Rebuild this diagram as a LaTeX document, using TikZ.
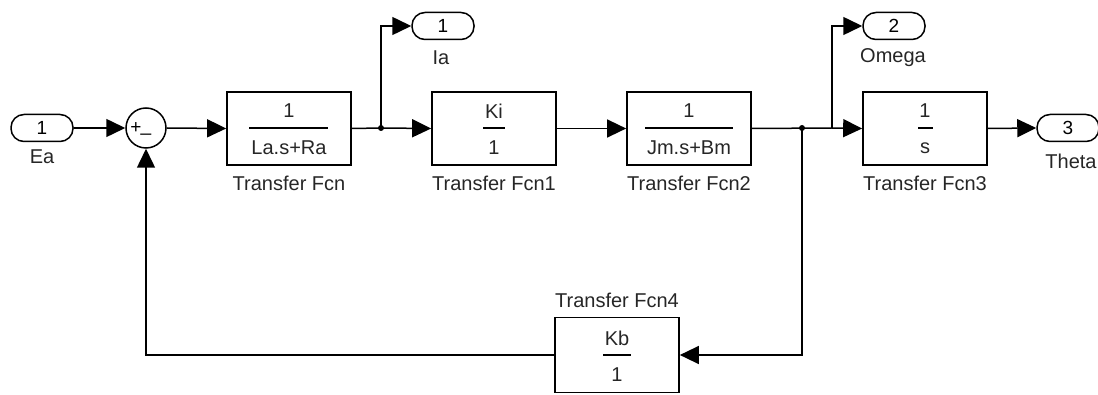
\documentclass[tikz,border=0pt]{standalone}
\usepackage{fontspec}
\setmainfont{Liberation Sans}
\usetikzlibrary{arrows.meta,calc}
\begin{document}
\begin{tikzpicture}[x=1pt,y=-1pt,
  wire/.style={line width=1.5pt,draw=black},
  arr/.style={wire,-{Triangle[length=19pt,width=18pt]}},
  tfbox/.style={draw,line width=1.7pt,minimum width=124pt,minimum height=73pt,inner sep=0},
  port/.style={draw,line width=1.5pt,rounded corners=13pt,minimum width=62pt,minimum height=27pt,inner sep=0,font=\fontsize{19}{19}\selectfont},
  lbl/.style={font=\fontsize{20}{20}\selectfont,text=black!85,inner sep=0},
  frac/.style={font=\fontsize{20}{20}\selectfont,inner sep=0,text=black!85},
  fline/.style={line width=1.5pt},
  dot/.style={circle,fill,inner sep=0,minimum size=6pt}
]
\useasboundingbox (0,0) rectangle (1098,395);

% input port and sum
\node[port] (ea) at (42,128) {1};
\node[lbl] (eal) at (42,157) {Ea};
\node[circle,draw,line width=1.5pt,minimum size=40pt,inner sep=0] (sum) at (146,128) {};
\node[font=\fontsize{19}{19}\selectfont,inner sep=0] (sp) at (136,128) {+};
\node[font=\fontsize{19}{19}\selectfont,inner sep=0] (sm) at (146,133) {\_};

% Transfer Fcn
\node[tfbox] (tf) at (289,128.5) {};
\node[frac] (tfn) at (289,111) {1};
\draw[fline] (249,128) coordinate (tfa) -- (328,128) coordinate (tfb);
\node[frac] (tfd) at (289,148) {La.s+Ra};
\node[lbl] (tfl) at (289,183) {Transfer Fcn};

% Ia port
\node[port] (ia) at (443,26) {1};
\node[lbl] (ial) at (441,58) {Ia};

% Transfer Fcn1
\node[tfbox] (tf1) at (494,128.5) {};
\node[frac] (tf1n) at (494,111) {Ki};
\draw[fline] (483,128) coordinate (tf1a) -- (505,128) coordinate (tf1b);
\node[frac] (tf1d) at (494,148) {1};
\node[lbl] (tf1l) at (494,183) {Transfer Fcn1};

% Transfer Fcn2
\node[tfbox] (tf2) at (689,128.5) {};
\node[frac] (tf2n) at (689,111) {1};
\draw[fline] (645,128) coordinate (tf2a) -- (733,128) coordinate (tf2b);
\node[frac] (tf2d) at (689,148) {Jm.s+Bm};
\node[lbl] (tf2l) at (689,183) {Transfer Fcn2};

% Omega port
\node[port] (om) at (894,26) {2};
\node[lbl] (oml) at (893,58) {Omega};

% Transfer Fcn3
\node[tfbox] (tf3) at (925,128.5) {};
\node[frac] (tf3n) at (925,111) {1};
\draw[fline] (918,128) coordinate (tf3a) -- (933,128) coordinate (tf3b);
\node[frac] (tf3d) at (925,148) {s};
\node[lbl] (tf3l) at (925,183) {Transfer Fcn3};

% Theta port
\node[port] (th) at (1068,128) {3};
\node[lbl] (thl) at (1071,161) {Theta};

% Transfer Fcn4
\node[tfbox,minimum height=75pt] (tf4) at (617,355) {};
\node[frac] (tf4n) at (617,338) {Kb};
\draw[fline] (603,355) coordinate (tf4a) -- (631,355) coordinate (tf4b);
\node[frac] (tf4d) at (617,375) {1};
\node[lbl] (tf4l) at (617,300) {Transfer Fcn4};

% branch points
\coordinate (b1) at (381,128);
\coordinate (b2) at (802,128);
\coordinate (b3) at (832,128);
\node[dot] (d1) at (b1) {};
\node[dot] (d2) at (b2) {};

% connectors
\draw[arr] (ea.east) -- (sum.west);
\draw[arr] (sum.east) -- (tf.west);
\draw[wire] (tf.east) -- (b1);
\draw[arr] (b1) -- (tf1.west);
\draw[arr] (b1) |- (ia.west);
\draw[arr] (tf1.east) -- (tf2.west);
\draw[wire] (tf2.east) -- (b3);
\draw[arr] (b3) -- (tf3.west);
\draw[arr] (b3) |- (om.west);
\draw[arr] (tf3.east) -- (th.west);
\draw[arr] (b2) |- (tf4.east);
\draw[arr] (tf4.west) -| (sum.south);
\end{tikzpicture}
\end{document}
